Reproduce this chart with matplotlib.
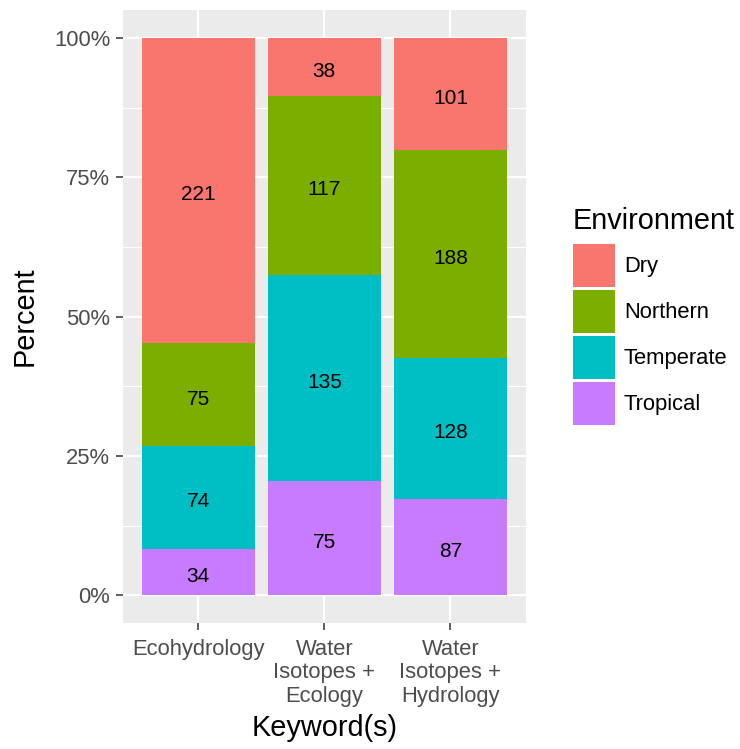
import matplotlib
matplotlib.use("Agg")
import matplotlib.pyplot as plt
from matplotlib.patches import Patch
import numpy as np

plt.rcParams['font.family'] = ['Liberation Sans', 'DejaVu Sans']

categories = ["Ecohydrology", "Water\nIsotopes +\nEcology", "Water\nIsotopes +\nHydrology"]
environments = ["Dry", "Northern", "Temperate", "Tropical"]
colors = ["#F8766D", "#7CAE00", "#00BFC4", "#C77CFF"]
counts = {
    "Dry":       [221, 38, 101],
    "Northern":  [75, 117, 188],
    "Temperate": [74, 135, 128],
    "Tropical":  [34, 75, 87],
}
yticks = [0, 25, 50, 75, 100]
ytick_labels = ["0%", "25%", "50%", "75%", "100%"]

W, H = 740, 749
fig = plt.figure(figsize=(W / 100, H / 100), dpi=100)
L, R, T, B = 122.7, 526.0, 10.0, 623.3
ax = fig.add_axes([L / W, 1 - B / H, (R - L) / W, (B - T) / H])
ax.set_facecolor("#EBEBEB")
for s in ax.spines.values():
    s.set_visible(False)

x = np.arange(len(categories))
totals = np.sum([counts[e] for e in environments], axis=0)
bottom = np.zeros(len(categories))
# stack from bottom: Tropical, Temperate, Northern, Dry
for env, col in reversed(list(zip(environments, colors))):
    vals = np.array(counts[env], dtype=float)
    pct = vals / totals * 100
    ax.bar(x, pct, bottom=bottom, width=0.9, color=col, zorder=3, linewidth=0)
    for xi, b, p, v in zip(x, bottom, pct, counts[env]):
        ax.annotate(str(v), (xi, b + p / 2), xytext=(0, -3.2),
                    textcoords="offset points", ha="center", va="center",
                    fontsize=15, color="black", zorder=4)
    bottom += pct

ax.set_xlim(-0.6, len(categories) - 0.4)
ax.set_ylim(-5, 105)
ax.set_xticks(x)
ax.set_xticklabels(categories, linespacing=1.16)
ax.set_yticks(yticks)
ax.set_yticklabels(ytick_labels)
ax.set_yticks([12.5, 37.5, 62.5, 87.5], minor=True)
ax.tick_params(axis="both", which="major", length=5, width=1.1, color="#333333",
               labelsize=15.8, labelcolor="#4D4D4D", pad=4)
ax.tick_params(axis="x", which="major", pad=6)
ax.tick_params(axis="y", which="minor", length=0)
ax.grid(True, which="major", color="white", linewidth=1.6, zorder=1)
ax.grid(True, which="minor", axis="y", color="white", linewidth=0.8, zorder=1)
ax.set_axisbelow(True)

ax.set_xlabel("Keyword(s)", fontsize=20.8, color="black", labelpad=5)
ax.set_ylabel("Percent", fontsize=20.8, color="black", labelpad=11)

handles = [Patch(facecolor=c, edgecolor="none") for c in colors]
leg = fig.legend(handles, environments, title="Environment",
                 loc="upper left", bbox_to_anchor=(572.7 / W, 1 - 207 / H),
                 frameon=False, fontsize=15.8, title_fontsize=20.8,
                 handlelength=1.95, handleheight=2.63, labelspacing=0.14,
                 handletextpad=0.38, borderpad=0, borderaxespad=0,
                 alignment="left")
leg._legend_box.sep = 6.5

fig.savefig("out.png", dpi=100)
